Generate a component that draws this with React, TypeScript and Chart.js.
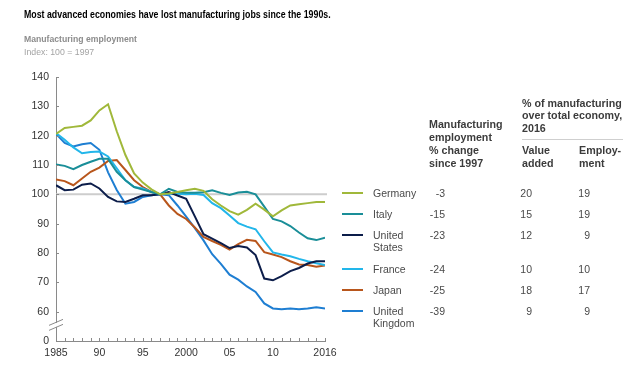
import React, { useEffect, useRef } from "react";
import { Chart, registerables } from "chart.js";

Chart.register(...registerables);

const years = [
  1985, 1986, 1987, 1988, 1989, 1990, 1991, 1992, 1993, 1994, 1995, 1996, 1997,
  1998, 1999, 2000, 2001, 2002, 2003, 2004, 2005, 2006, 2007, 2008, 2009, 2010,
  2011, 2012, 2013, 2014, 2015, 2016,
];

const germany = [
  120.6, 122.6, 123, 123.4, 125.2, 128.6, 130.7, 121.5, 113.4, 107.1, 104, 101.7, 100,
  100.3, 100.8, 101.4, 101.9, 101.2, 98.3, 96.2, 94.3, 93.1, 94.7, 96.8, 94.8, 92.5,
  94.5, 96.2, 96.6, 97, 97.4, 97.4,
];
const italy = [
  110.2, 109.7, 108.6, 110, 111.1, 112.1, 112.1, 107.7, 104.8, 102.5, 101.6, 100.8, 100,
  101.9, 100.8, 100.5, 100.5, 100.7, 101.4, 100.5, 99.8, 100.6, 100.9, 100, 95.8, 91.6,
  90.8, 89.2, 87, 85, 84.4, 85.2,
];
const unitedStates = [
  103.1, 101.4, 101.6, 103.3, 103.7, 102, 99.1, 97.6, 97.4, 98.5, 99.7, 99.7, 100,
  100.8, 99.6, 98.5, 92.5, 86.4, 84.9, 83.4, 81.7, 82.4, 81.9, 79.3, 71.3, 70.7,
  72.1, 73.8, 74.9, 76.4, 77.2, 77.2,
];
const france = [
  120.9, 118.6, 116, 114, 114.4, 114.6, 112.9, 108.9, 104.8, 102.5, 102, 100.8, 100,
  100.3, 100.2, 100, 100.2, 99.8, 97, 95.3, 92.8, 90.2, 89, 88.1, 84, 80.2,
  79.5, 78.9, 78, 77.2, 76.5, 75.9,
];
const japan = [
  105.1, 104.5, 103.1, 105.4, 107.7, 109.1, 111.4, 111.7, 108.3, 104.8, 102.5, 100.8, 100,
  96.2, 93.3, 91.6, 88.7, 85.5, 84.1, 82.8, 81.2, 83, 84.5, 84.1, 80.3, 79.5,
  78.6, 77.2, 76.1, 75.9, 75.3, 75.7,
];
const unitedKingdom = [
  120.6, 117.5, 116.3, 117.1, 117.5, 115.2, 107.5, 101.5, 96.8, 97.4, 99.1, 99.7, 100,
  99.7, 96.2, 92.4, 88.5, 84.3, 79.6, 76.3, 72.6, 70.9, 68.6, 66.7, 62.8, 61.1,
  60.8, 61.1, 60.8, 61.1, 61.5, 61.1,
];

const seriesNames = ["Germany", "Italy", "United States", "France", "Japan", "United Kingdom"];
const seriesLabelLines = [["Germany"], ["Italy"], ["United", "States"], ["France"], ["Japan"], ["United", "Kingdom"]];
const seriesValues = [germany, italy, unitedStates, france, japan, unitedKingdom];
const seriesColors = ["#A0B83A", "#1A8E98", "#0C1D4A", "#22B6EA", "#B8561C", "#1E7ED2"];

const changeSince1997 = ["-3", "-15", "-23", "-24", "-25", "-39"];
const valueAddedShare = ["20", "15", "12", "10", "18", "9"];
const employmentShare = ["19", "19", "9", "10", "17", "9"];

const xTickLabels: Record<number, string> = {
  1985: "1985", 1990: "90", 1995: "95", 2000: "2000", 2005: "05", 2010: "10", 2016: "2016",
};
const yTickLabels: Record<number, string> = {
  50: "0", 60: "60", 70: "70", 80: "80", 90: "90", 100: "100", 110: "110", 120: "120", 130: "130", 140: "140",
};

const FONT = '"Liberation Sans", Arial, Helvetica, sans-serif';
const rowCenters = [192.7, 214, 235, 269, 290, 310.7];

const decorPlugin = {
  id: "decor",
  beforeDatasetsDraw(chart: any) {
    const { ctx, scales } = chart;
    const y = scales.y.getPixelForValue(100);
    ctx.save();
    ctx.strokeStyle = "#CDCDCD";
    ctx.lineWidth = 2;
    ctx.beginPath();
    ctx.moveTo(scales.x.left, y);
    ctx.lineTo(scales.x.right + 2, y);
    ctx.stroke();
    ctx.restore();
  },
  afterDraw(chart: any) {
    const { ctx, scales } = chart;
    const xs = scales.x;
    const ys = scales.y;
    ctx.save();
    ctx.strokeStyle = "#8A8A8A";
    ctx.lineWidth = 1;
    for (let v = 60; v <= 140; v += 10) {
      const py = Math.round(ys.getPixelForValue(v)) + 0.5;
      ctx.beginPath();
      ctx.moveTo(xs.left, py);
      ctx.lineTo(xs.left + 3, py);
      ctx.stroke();
    }
    const by = ys.bottom;
    for (const yr of years) {
      if (yr === 1985) continue;
      const px = Math.round(xs.getPixelForValue(yr)) + 0.5;
      ctx.beginPath();
      ctx.moveTo(px, by);
      ctx.lineTo(px, by - 3);
      ctx.stroke();
    }
    const ax = xs.left;
    const cy = ys.getPixelForValue(55.5);
    ctx.fillStyle = "#ffffff";
    ctx.fillRect(ax - 2, cy - 2, 4, 4);
    ctx.strokeStyle = "#8A8A8A";
    ctx.lineWidth = 1;
    for (const off of [-2.5, 2.5]) {
      ctx.beginPath();
      ctx.moveTo(ax - 7, cy + off + 3);
      ctx.lineTo(ax + 7, cy + off - 3);
      ctx.stroke();
    }
    ctx.restore();
  },
};

function ChartCanvas() {
  const ref = useRef<HTMLCanvasElement | null>(null);
  useEffect(() => {
    if (!ref.current) return;
    const chart = new Chart(ref.current, {
      type: "line",
      data: {
        datasets: seriesValues.map((vals, i) => ({
          label: seriesNames[i],
          data: vals.map((v, j) => ({ x: years[j], y: v })),
          borderColor: seriesColors[i],
          backgroundColor: seriesColors[i],
          borderWidth: 2,
          pointRadius: 0,
          tension: 0,
          fill: false,
        })),
      },
      options: {
        animation: false,
        responsive: false,
        maintainAspectRatio: false,
        layout: { padding: { left: 0, top: 77, right: 315, bottom: 0 } },
        plugins: { legend: { display: false }, tooltip: { enabled: false } },
        scales: {
          x: {
            type: "linear",
            min: 1985,
            max: 2016,
            afterFit: (s: any) => { s.height = 24; },
            afterBuildTicks: (s: any) => { s.ticks = years.map((v) => ({ value: v })); },
            grid: { display: false, drawTicks: false },
            border: { display: true, color: "#8A8A8A", width: 1 },
            ticks: {
              autoSkip: false,
              maxRotation: 0,
              minRotation: 0,
              padding: 6,
              color: "#333333",
              font: { family: FONT, size: 10.5 },
              callback: (v: any) => xTickLabels[Number(v)] ?? "",
            },
          },
          y: {
            type: "linear",
            min: 50,
            max: 140,
            afterFit: (s: any) => { s.width = 56; },
            grid: { display: false, drawTicks: false },
            border: { display: true, color: "#8A8A8A", width: 1 },
            ticks: {
              stepSize: 10,
              padding: 7,
              color: "#333333",
              font: { family: FONT, size: 10.5 },
              callback: (v: any) => yTickLabels[Number(v)] ?? "",
            },
          },
        },
      },
      plugins: [decorPlugin],
    });
    return () => chart.destroy();
  }, []);
  return <canvas ref={ref} width={640} height={365} style={{ position: "absolute", left: 0, top: 0 }} />;
}

const abs = (left: number, top: number, extra: React.CSSProperties = {}): React.CSSProperties => ({
  position: "absolute",
  left,
  top,
  whiteSpace: "nowrap",
  fontFamily: FONT,
  ...extra,
});

export default function App() {
  const headColor = "#3C3C3C";
  const rowColor = "#4A4A4A";
  return (
    <div style={{ position: "fixed", left: 0, top: 0, width: 640, height: 365, background: "#fff", overflow: "hidden" }}>
      <ChartCanvas />
      <div style={abs(24, 9, { fontSize: 10, lineHeight: "12px", fontWeight: 700, color: "#000", transform: "scaleX(0.88)", transformOrigin: "left center" })}>
        Most advanced economies have lost manufacturing jobs since the 1990s.
      </div>
      <div style={abs(24, 33, { fontSize: 9.5, lineHeight: "12px", fontWeight: 700, color: "#8C8C8C", transform: "scaleX(0.91)", transformOrigin: "left center" })}>
        Manufacturing employment
      </div>
      <div style={abs(24, 46, { fontSize: 9.5, lineHeight: "12px", color: "#A3A3A3", transform: "scaleX(0.92)", transformOrigin: "left center" })}>
        Index: 100 = 1997
      </div>

      <div style={abs(522, 96.5, { fontSize: 10.7, lineHeight: "12.5px", fontWeight: 700, color: headColor })}>
        % of manufacturing<br />over total economy,<br />2016
      </div>
      <div style={{ position: "absolute", left: 522, top: 139, width: 101, height: 1, background: "#CFCFCF" }} />
      <div style={abs(429, 117.5, { fontSize: 10.7, lineHeight: "13px", fontWeight: 700, color: headColor })}>
        Manufacturing<br />employment<br />% change<br />since 1997
      </div>
      <div style={abs(522, 143.5, { fontSize: 10.7, lineHeight: "13px", fontWeight: 700, color: headColor })}>
        Value<br />added
      </div>
      <div style={abs(579, 143.5, { fontSize: 10.7, lineHeight: "13px", fontWeight: 700, color: headColor })}>
        Employ-<br />ment
      </div>

      {seriesNames.map((name, i) => {
        const c = rowCenters[i];
        return (
          <React.Fragment key={name}>
            <div style={{ position: "absolute", left: 342, top: c - 1, width: 21, height: 2, background: seriesColors[i] }} />
            <div style={abs(373, c - 6, { fontSize: 10.5, lineHeight: "12px", color: rowColor })}>
              {seriesLabelLines[i].map((l, k) => (
                <div key={k}>{l}</div>
              ))}
            </div>
            <div style={abs(395, c - 6, { width: 50, textAlign: "right", fontSize: 10.5, lineHeight: "12px", color: rowColor })}>
              {changeSince1997[i]}
            </div>
            <div style={abs(492, c - 6, { width: 40, textAlign: "right", fontSize: 10.5, lineHeight: "12px", color: rowColor })}>
              {valueAddedShare[i]}
            </div>
            <div style={abs(550, c - 6, { width: 40, textAlign: "right", fontSize: 10.5, lineHeight: "12px", color: rowColor })}>
              {employmentShare[i]}
            </div>
          </React.Fragment>
        );
      })}
    </div>
  );
}
